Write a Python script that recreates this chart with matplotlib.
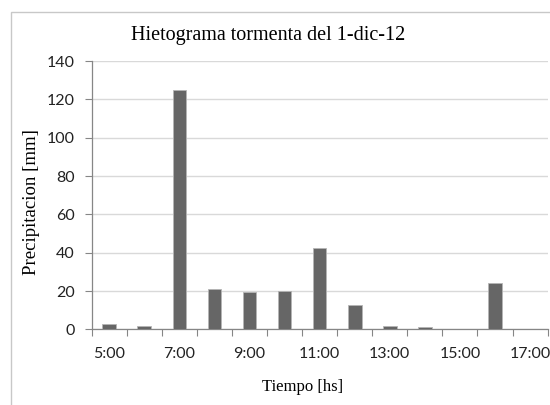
import numpy as np
import matplotlib
matplotlib.use('Agg')
import matplotlib.pyplot as plt
import matplotlib.patches as mpatches

# ── Data ─────────────────────────────────────────────────────────────────────
horas = ['5:00', '6:00', '7:00', '8:00', '9:00', '10:00', '11:00',
         '12:00', '13:00', '14:00', '15:00', '16:00', '17:00']
precip = [2.9, 1.9, 125, 21.3, 19.4, 19.9, 42.6, 12.6, 1.9, 1.4, 0, 24.2, 0]

# ── Style ────────────────────────────────────────────────────────────────────
SERIF = ['Liberation Serif', 'DejaVu Serif']
SANS = ['Lato', 'Liberation Sans', 'DejaVu Sans']
AXIS_GREY = '#868686'
GRID_GREY = '#d9d9d9'
BAR_GREY = '#666666'

fig = plt.figure(figsize=(5.5, 4.05), dpi=100)
ax = fig.add_axes([0.1667, 0.1869, 0.8290, 0.6620])

# chart-area border (Excel style), runs off bottom/right edge
fig.patches.append(mpatches.Rectangle((0.02, -0.1), 1.2, 1.0704,
                                      transform=fig.transFigure,
                                      fill=False, edgecolor='#c8c8c8',
                                      linewidth=1.0))

x = np.arange(len(horas))
ax.bar(x, precip, width=0.39, color=BAR_GREY, edgecolor='#b5b5b5',
       linewidth=0.6, zorder=3)

ax.set_xlim(-0.5, len(horas) - 0.5)
ax.set_ylim(0, 140)
ax.set_yticks(np.arange(0, 141, 20))
ax.yaxis.grid(True, color=GRID_GREY, linewidth=1.0, zorder=0)
ax.set_axisbelow(True)

# category labels every other hour, tick marks at category boundaries
ax.set_xticks(x[::2])
ax.set_xticklabels(horas[::2])
ax.set_xticks(np.arange(-0.5, len(horas)), minor=True)
ax.tick_params(axis='x', which='major', length=0, pad=13)
ax.tick_params(axis='x', which='minor', length=5, color=AXIS_GREY, width=0.8)
ax.tick_params(axis='y', length=5, color=AXIS_GREY, width=0.8, pad=7)

for lab in ax.get_xticklabels() + ax.get_yticklabels():
    lab.set_family(SANS)
    lab.set_fontsize(11.5)
    lab.set_color('#222222')

for s in ['top', 'right']:
    ax.spines[s].set_visible(False)
for s in ['left', 'bottom']:
    ax.spines[s].set_color(AXIS_GREY)
    ax.spines[s].set_linewidth(0.9)

fig.text(0.487, 0.912, 'Hietograma tormenta del 1-dic-12', ha='center',
         va='center', family=SERIF, fontsize=14.5)
fig.text(0.551, 0.045, 'Tiempo [hs]', ha='center', va='center',
         family=SERIF, fontsize=12)
fig.text(0.058, 0.50, 'Precipitacion [mm]', ha='center', va='center',
         rotation=90, family=SERIF, fontsize=13.5)

fig.savefig('out.png', dpi=100)
plt.close(fig)
